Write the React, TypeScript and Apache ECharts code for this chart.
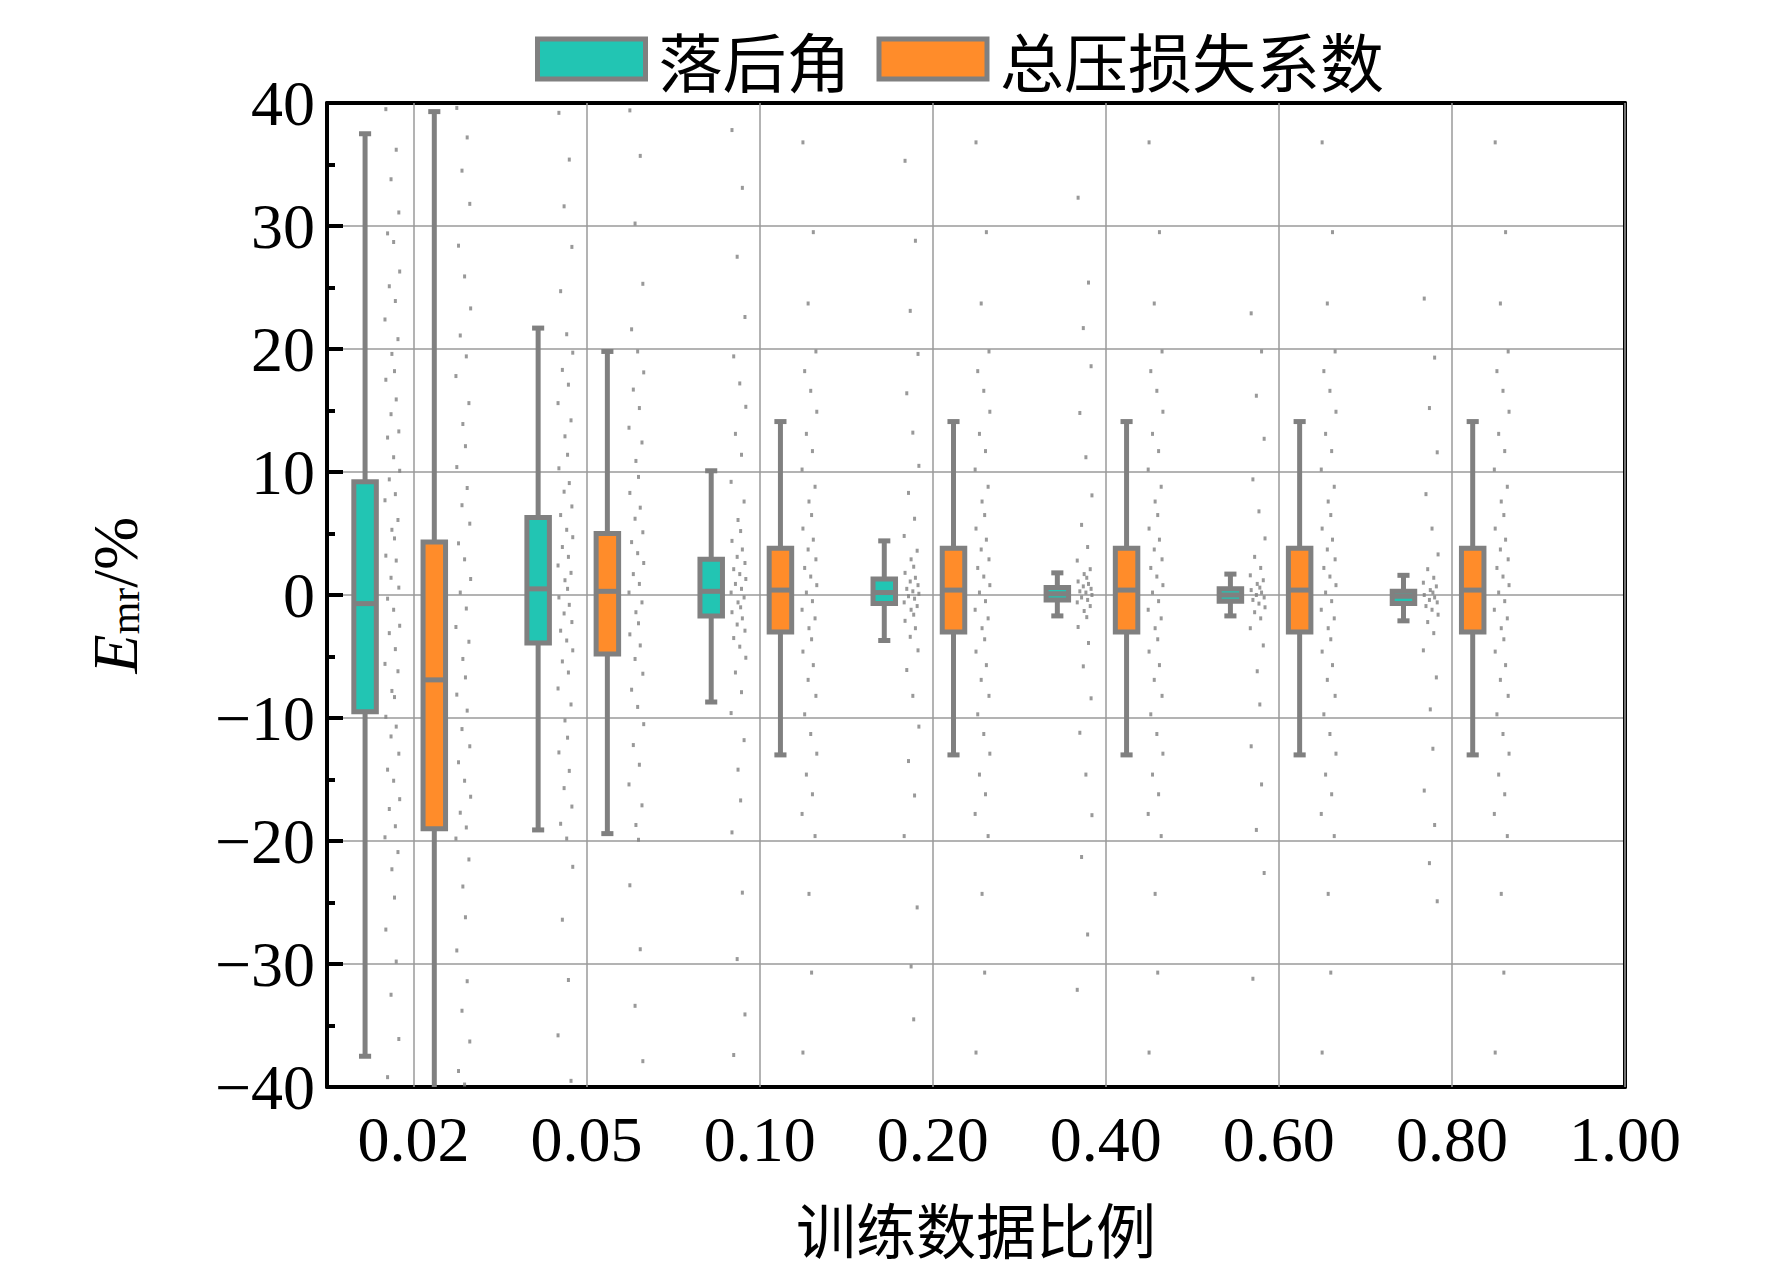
import React, { useEffect, useRef } from 'react';
import * as echarts from 'echarts';

const categories = ['0.02', '0.05', '0.10', '0.20', '0.40', '0.60', '0.80', '1.00'];
// box stats: [min, q1, median, q3, max]
const lagBoxes = [
  [-37.5, -9.5, -0.7, 9.2, 37.5],
  [-19.1, -3.9, 0.5, 6.3, 21.7],
  [-8.7, -1.7, 0.3, 2.9, 10.1],
  [-3.7, -0.7, 0.2, 1.3, 4.4],
  [-1.7, -0.4, 0.1, 0.6, 1.8],
  [-1.7, -0.5, 0.0, 0.5, 1.7],
  [-2.1, -0.7, -0.1, 0.3, 1.6],
];
const lossBoxes = [
  [-45, -19.0, -6.9, 4.3, 39.3],
  [-19.4, -4.8, 0.3, 5.0, 19.8],
  [-13.0, -3.0, 0.4, 3.8, 14.1],
  [-13.0, -3.0, 0.4, 3.8, 14.1],
  [-13.0, -3.0, 0.4, 3.8, 14.1],
  [-13.0, -3.0, 0.4, 3.8, 14.1],
  [-13.0, -3.0, 0.4, 3.8, 14.1],
];
// raw points read from the clouds
const lagClouds = [
  [39.5, 36.2, 33.8, 31.1, 29.4, 28.7, 26.3, 25.1, 23.9, 22.4, 20.8, 19.6, 18.2, 17.5, 15.9, 14.7, 13.3, 12.8, 11.2, 10.1, 9.4, 8.2, 7.7, 6.1, 5.3, 4.6, 3.2, 2.8, 1.4, 0.6, -0.3, -1.2, -2.5, -3.1, -4.4, -5.6, -6.2, -7.8, -8.3, -9.9, -10.7, -11.5, -12.9, -14.2, -15.1, -16.6, -17.4, -18.8, -19.7, -20.9, -22.3, -24.6, -27.2, -29.8, -32.5, -36.1, -39.2],
  [39.2, 35.4, 31.6, 28.3, 24.7, 21.2, 19.7, 18.3, 17.1, 15.6, 14.2, 12.9, 11.4, 10.3, 9.1, 8.4, 7.2, 6.5, 5.3, 4.7, 3.9, 3.1, 2.4, 1.8, 1.2, 0.5, -0.2, -0.8, -1.5, -2.2, -2.9, -3.7, -4.5, -5.4, -6.3, -7.6, -8.9, -10.2, -11.6, -12.8, -14.3, -15.7, -17.2, -18.6, -19.8, -22.1, -26.4, -31.3, -35.8, -39.5],
  [37.8, 33.1, 27.5, 22.6, 19.4, 17.2, 15.3, 13.1, 11.4, 9.2, 7.6, 6.1, 5.2, 4.4, 3.7, 3.1, 2.6, 2.1, 1.7, 1.3, 0.9, 0.5, 0.2, -0.2, -0.6, -1.0, -1.4, -1.9, -2.4, -2.9, -3.5, -4.2, -5.1, -6.3, -7.9, -9.6, -11.8, -14.2, -16.7, -19.3, -24.2, -29.6, -34.1, -37.4],
  [35.3, 28.8, 23.1, 19.6, 16.4, 13.2, 10.5, 8.3, 6.2, 4.8, 3.6, 2.9, 2.3, 1.8, 1.4, 1.1, 0.8, 0.5, 0.3, 0.1, -0.1, -0.3, -0.6, -0.9, -1.2, -1.6, -2.1, -2.7, -3.4, -4.5, -6.1, -8.2, -10.7, -13.5, -16.3, -19.6, -25.4, -30.2, -34.5],
  [32.3, 25.4, 21.7, 18.6, 14.8, 11.2, 8.1, 5.7, 3.9, 2.8, 2.1, 1.7, 1.4, 1.1, 0.9, 0.7, 0.5, 0.3, 0.2, 0.0, -0.2, -0.4, -0.6, -0.9, -1.3, -1.8, -2.6, -3.9, -5.8, -8.4, -11.2, -14.6, -17.9, -21.3, -27.6, -32.1],
  [22.9, 19.8, 16.2, 12.7, 9.4, 6.8, 4.6, 3.1, 2.2, 1.6, 1.2, 0.9, 0.6, 0.4, 0.2, 0.0, -0.2, -0.4, -0.7, -1.0, -1.4, -1.9, -2.7, -4.1, -6.2, -8.9, -12.3, -15.4, -19.1, -22.6, -31.2],
  [24.1, 19.3, 15.2, 11.6, 8.2, 5.4, 3.3, 2.1, 1.4, 1.0, 0.7, 0.4, 0.2, 0.0, -0.2, -0.4, -0.6, -0.9, -1.2, -1.6, -2.2, -3.1, -4.5, -6.7, -9.3, -12.5, -15.9, -18.7, -21.8, -24.9],
];
const lossClouds = [
  [39.6, 37.2, 34.5, 31.8, 28.4, 25.9, 23.3, 21.1, 19.4, 17.8, 15.6, 13.9, 12.1, 10.4, 8.7, 7.3, 5.8, 4.2, 2.9, 1.3, 0.2, -1.1, -2.6, -3.8, -5.2, -6.7, -8.1, -9.4, -10.9, -12.3, -13.6, -15.1, -16.4, -17.7, -18.9, -19.8, -21.5, -23.7, -26.2, -28.9, -31.4, -33.8, -36.3, -38.7, -39.8],
  [39.4, 35.7, 30.2, 25.3, 21.6, 19.8, 18.1, 16.7, 15.2, 13.6, 12.4, 10.9, 9.6, 8.3, 7.1, 6.2, 5.1, 4.3, 3.4, 2.6, 1.7, 0.9, 0.2, -0.6, -1.4, -2.3, -3.2, -4.1, -5.2, -6.4, -7.7, -9.1, -10.5, -12.2, -13.8, -15.4, -17.1, -18.7, -19.9, -23.6, -28.8, -33.4, -37.9],
  [36.8, 29.5, 23.7, 19.8, 18.2, 16.6, 14.9, 13.1, 11.7, 10.2, 8.8, 7.6, 6.5, 5.4, 4.5, 3.7, 2.9, 2.2, 1.5, 0.8, 0.2, -0.5, -1.2, -1.9, -2.7, -3.6, -4.6, -5.7, -6.9, -8.2, -9.7, -11.3, -12.9, -14.6, -16.2, -17.8, -19.6, -24.3, -30.7, -37.2],
  [36.8, 29.5, 23.7, 19.8, 18.2, 16.6, 14.9, 13.1, 11.7, 10.2, 8.8, 7.6, 6.5, 5.4, 4.5, 3.7, 2.9, 2.2, 1.5, 0.8, 0.2, -0.5, -1.2, -1.9, -2.7, -3.6, -4.6, -5.7, -6.9, -8.2, -9.7, -11.3, -12.9, -14.6, -16.2, -17.8, -19.6, -24.3, -30.7, -37.2],
  [36.8, 29.5, 23.7, 19.8, 18.2, 16.6, 14.9, 13.1, 11.7, 10.2, 8.8, 7.6, 6.5, 5.4, 4.5, 3.7, 2.9, 2.2, 1.5, 0.8, 0.2, -0.5, -1.2, -1.9, -2.7, -3.6, -4.6, -5.7, -6.9, -8.2, -9.7, -11.3, -12.9, -14.6, -16.2, -17.8, -19.6, -24.3, -30.7, -37.2],
  [36.8, 29.5, 23.7, 19.8, 18.2, 16.6, 14.9, 13.1, 11.7, 10.2, 8.8, 7.6, 6.5, 5.4, 4.5, 3.7, 2.9, 2.2, 1.5, 0.8, 0.2, -0.5, -1.2, -1.9, -2.7, -3.6, -4.6, -5.7, -6.9, -8.2, -9.7, -11.3, -12.9, -14.6, -16.2, -17.8, -19.6, -24.3, -30.7, -37.2],
  [36.8, 29.5, 23.7, 19.8, 18.2, 16.6, 14.9, 13.1, 11.7, 10.2, 8.8, 7.6, 6.5, 5.4, 4.5, 3.7, 2.9, 2.2, 1.5, 0.8, 0.2, -0.5, -1.2, -1.9, -2.7, -3.6, -4.6, -5.7, -6.9, -8.2, -9.7, -11.3, -12.9, -14.6, -16.2, -17.8, -19.6, -24.3, -30.7, -37.2],
];
const jitter = [-0.04, 0.02, -0.01, 0.035, -0.03, 0.005, 0.04, -0.02, 0.015, -0.045, 0.03, -0.005, 0.01];

const TEAL = '#22C5B3';
const ORANGE = '#FF8C2A';
const GREY = '#808080';
const FONT = 'Liberation Serif';
const CJK = 'Noto Sans CJK SC';

const LAG_X = -0.28;
const LOSS_X = 0.12;
const LAG_CLOUD_X = -0.12;
const LOSS_CLOUD_X = 0.29;

function boxRender(color: string) {
  return (params: any, api: any) => {
    const x = api.value(0);
    const half = api.size([0.065, 0])[0];
    const cap = api.size([0.035, 0])[0];
    const pMin = api.coord([x, api.value(1)]);
    const pQ1 = api.coord([x, api.value(2)]);
    const pMed = api.coord([x, api.value(3)]);
    const pQ3 = api.coord([x, api.value(4)]);
    const pMax = api.coord([x, api.value(5)]);
    const ls = { stroke: GREY, lineWidth: 5 };
    return {
      type: 'group',
      children: [
        { type: 'line', shape: { x1: pMin[0], y1: pMin[1], x2: pMax[0], y2: pMax[1] }, style: ls },
        { type: 'line', shape: { x1: pMin[0] - cap, y1: pMin[1], x2: pMin[0] + cap, y2: pMin[1] }, style: ls },
        { type: 'line', shape: { x1: pMax[0] - cap, y1: pMax[1], x2: pMax[0] + cap, y2: pMax[1] }, style: ls },
        { type: 'rect', shape: { x: pQ3[0] - half, y: pQ3[1], width: half * 2, height: pQ1[1] - pQ3[1] }, style: { fill: color, stroke: GREY, lineWidth: 5 } },
        { type: 'line', shape: { x1: pMed[0] - half, y1: pMed[1], x2: pMed[0] + half, y2: pMed[1] }, style: ls },
      ],
    };
  };
}

function cloudData(clouds: number[][], dx: number) {
  const out: number[][] = [];
  clouds.forEach((ys, i) => ys.forEach((y, j) => out.push([i + dx + jitter[j % jitter.length], y])));
  return out;
}

export default function App() {
  const ref = useRef<HTMLDivElement>(null);
  useEffect(() => {
    document.body.style.margin = '0';
    if (!ref.current) return;
    const chart = echarts.init(ref.current, null, { renderer: 'svg' });
    chart.setOption({
      animation: false,
      backgroundColor: '#fff',
      legend: {
        top: 22,
        left: 530,
        itemWidth: 108,
        itemHeight: 40,
        itemGap: 26,
        textStyle: { fontFamily: CJK, fontSize: 64, color: '#000', padding: [0, 0, 0, 8] },
        data: [
          { name: '落后角', icon: 'rect', itemStyle: { color: TEAL, borderColor: GREY, borderWidth: 5 } },
          { name: '总压损失系数', icon: 'rect', itemStyle: { color: ORANGE, borderColor: GREY, borderWidth: 5 } },
        ],
      },
      grid: { left: 327, right: 147, top: 103, bottom: 189 },
      xAxis: [
        {
          type: 'value',
          min: -0.5,
          max: 7,
          axisLine: { onZero: false, lineStyle: { color: '#000', width: 4 } },
          axisTick: { show: false },
          splitLine: { show: false },
          axisLabel: {
            customValues: categories.map((_, i) => i),
            formatter: (v: number) => categories[Math.round(v)] ?? '',
            fontFamily: FONT,
            fontSize: 64,
            color: '#000',
            margin: 20,
          },
          name: '训练数据比例',
          nameLocation: 'middle',
          nameGap: 110,
          nameTextStyle: { fontFamily: CJK, fontSize: 60, color: '#000' },
        },
        {
          type: 'value',
          position: 'top',
          min: -0.5,
          max: 7,
          axisLine: { onZero: false, lineStyle: { color: '#000', width: 4 } },
          axisTick: { show: false },
          axisLabel: { show: false },
          splitLine: { show: false },
        },
      ],
      yAxis: [
        {
          type: 'value',
          min: -40,
          max: 40,
          interval: 10,
          axisLine: { show: true, onZero: false, lineStyle: { color: '#000', width: 4 } },
          axisTick: { inside: true, length: 16, lineStyle: { width: 4 } },
          minorTick: { show: true, splitNumber: 2, length: 8, lineStyle: { color: '#000', width: 4 } },
          splitLine: { show: true, lineStyle: { color: '#9a9a9a', width: 1.5 } },
          axisLabel: {
            fontFamily: FONT,
            fontSize: 64,
            color: '#000',
            margin: 12,
            formatter: (v: number) => (v < 0 ? '\u2212' + Math.abs(v) : String(v)),
          },
          name: '{i|E}{s|mr}{n|/%}',
          nameLocation: 'middle',
          nameGap: 180,
          nameRotate: 90,
          nameTextStyle: {
            rich: {
              i: { fontFamily: FONT, fontStyle: 'italic', fontSize: 64, color: '#000' },
              s: { fontFamily: FONT, fontSize: 42, color: '#000', padding: [20, 0, 0, 0] },
              n: { fontFamily: FONT, fontSize: 64, color: '#000' },
            },
          },
        },
        {
          type: 'value',
          position: 'right',
          min: -40,
          max: 40,
          axisLine: { show: true, onZero: false, lineStyle: { color: '#000', width: 4 } },
          axisTick: { show: false },
          axisLabel: { show: false },
          splitLine: { show: false },
        },
      ],
      series: [
        {
          name: 'grid-x',
          type: 'scatter',
          data: [],
          silent: true,
          markLine: {
            symbol: 'none',
            silent: true,
            label: { show: false },
            lineStyle: { color: '#9a9a9a', width: 1.5, type: 'solid' },
            data: categories.map((_, i) => ({ xAxis: i })),
          },
        },
        {
          name: 'lag-cloud',
          type: 'scatter',
          symbol: 'rect',
          symbolSize: [3, 4],
          itemStyle: { color: '#7f7f7f' },
          data: cloudData(lagClouds, LAG_CLOUD_X),
        },
        {
          name: 'loss-cloud',
          type: 'scatter',
          symbol: 'rect',
          symbolSize: [3, 4],
          itemStyle: { color: '#7f7f7f' },
          data: cloudData(lossClouds, LOSS_CLOUD_X),
        },
        {
          name: '落后角',
          type: 'custom',
          clip: true,
          itemStyle: { color: TEAL },
          renderItem: boxRender(TEAL),
          encode: { x: 0, y: [1, 2, 3, 4, 5] },
          data: lagBoxes.map((b, i) => [i + LAG_X, ...b]),
        },
        {
          name: '总压损失系数',
          type: 'custom',
          clip: true,
          itemStyle: { color: ORANGE },
          renderItem: boxRender(ORANGE),
          encode: { x: 0, y: [1, 2, 3, 4, 5] },
          data: lossBoxes.map((b, i) => [i + LOSS_X, ...b]),
        },
      ],
    });
    return () => chart.dispose();
  }, []);
  return <div ref={ref} style={{ width: 1772, height: 1276 }} />;
}
